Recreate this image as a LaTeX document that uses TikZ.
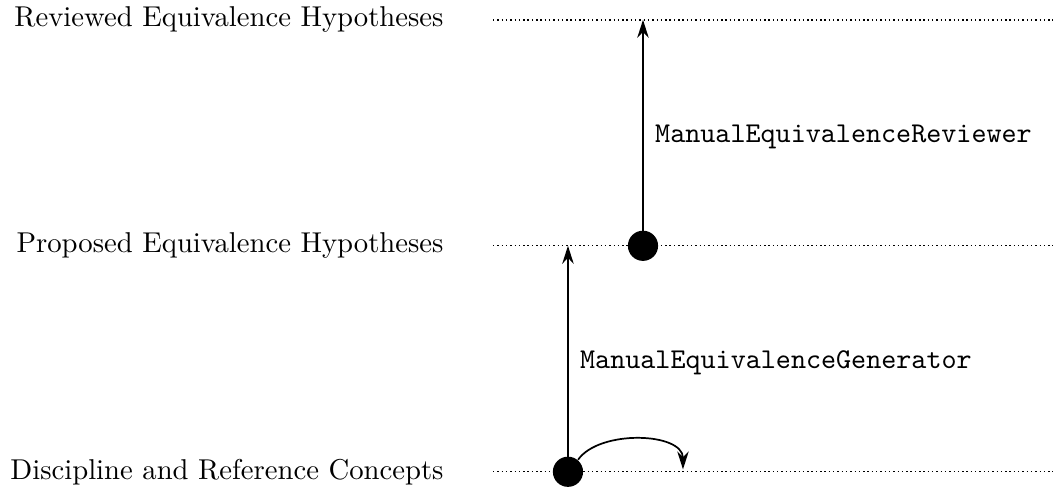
\documentclass[tikz,border=0pt]{standalone}
\usepackage{tikz}
\usetikzlibrary{arrows.meta}

\begin{document}
\begin{tikzpicture}[
    level/.style={anchor=east, inner sep=0pt},
    track/.style={densely dotted, line width=0.5pt},
    step dot/.style={circle, fill=black, inner sep=0pt, minimum size=0.37cm},
    arr/.style={-{Stealth[length=2.2mm,width=1.4mm]}, semithick},
    proc/.style={anchor=west, font=\ttfamily, inner sep=0pt}
]
\useasboundingbox (0,0) rectangle (12.9,6.0);

% the three levels
\node[level] (rev) at (5.44,5.757) {Reviewed Equivalence Hypotheses};
\node[level] (prop) at (5.44,2.989) {Proposed Equivalence Hypotheses};
\node[level] (disc) at (5.44,0.2205) {Discipline and Reference Concepts};

\coordinate (revA) at (6.04,5.757);  \coordinate (revB) at (12.9,5.757);
\coordinate (propA) at (6.04,2.989); \coordinate (propB) at (12.9,2.989);
\coordinate (discA) at (6.04,0.2205); \coordinate (discB) at (12.9,0.2205);

\draw[track] (revA) -- (revB);
\draw[track] (propA) -- (propB);
\draw[track] (discA) -- (discB);

% steps
\node[step dot] (gen) at (6.958,0.2205) {};
\node[step dot] (revw) at (7.877,2.989) {};
\coordinate (genTop) at (6.958,2.989);
\coordinate (revwTop) at (7.877,5.757);
\coordinate (loopEnd) at (8.367,0.25);

\draw[arr] (gen.center) -- (genTop);
\draw[arr] (revw.center) -- (revwTop);
\draw[arr] (gen.50) to[out=55,in=90,looseness=0.9] (loopEnd);

\node[proc] (genLbl) at (7.10,1.55) {ManualEquivalenceGenerator};
\node[proc] (revLbl) at (8.02,4.32) {ManualEquivalenceReviewer};
\end{tikzpicture}
\end{document}
